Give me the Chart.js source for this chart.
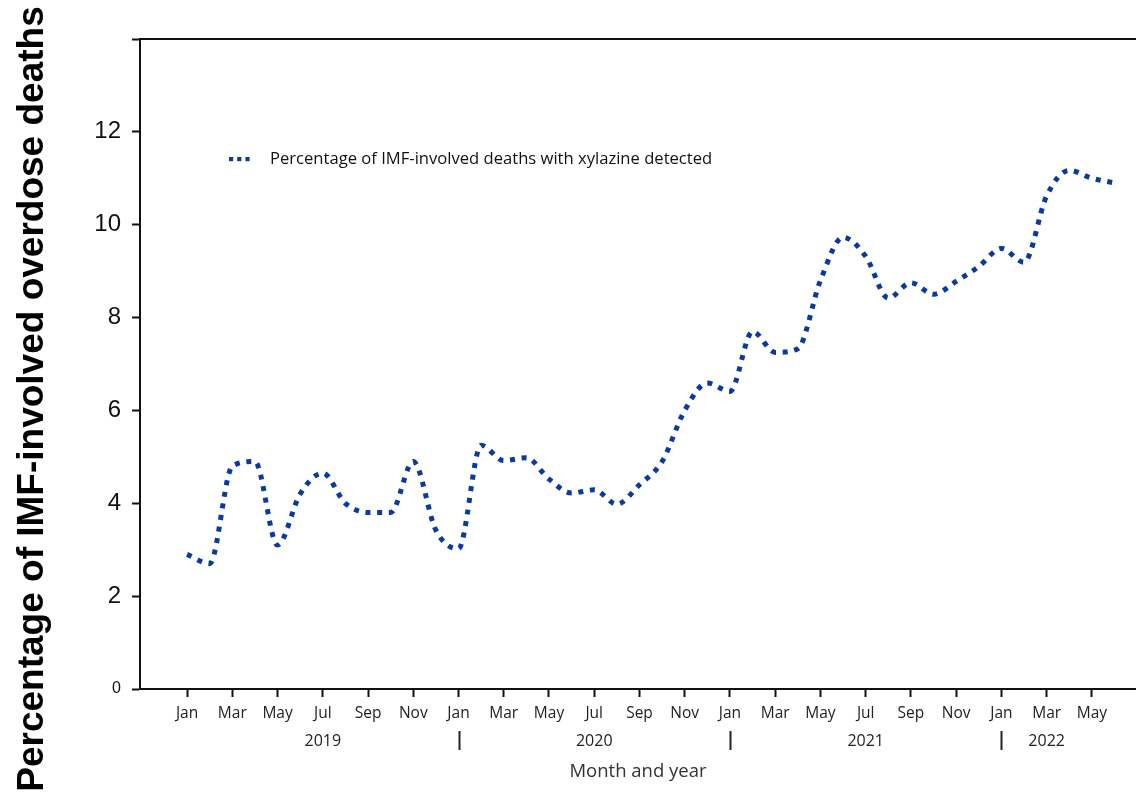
<!DOCTYPE html>
<html>
<head>
<meta charset="utf-8">
<script src="https://cdn.jsdelivr.net/npm/chart.js@4"></script>
<style>
  html, body { margin: 0; padding: 0; background: #fff; }
  #wrap { width: 1136px; height: 794px; position: relative; }
</style>
</head>
<body>
<div id="wrap"><canvas id="c" width="1136" height="794"></canvas></div>
<script>
// Monthly series, Jan 2019 – Jun 2022
const months = [
  '2019-01','2019-02','2019-03','2019-04','2019-05','2019-06','2019-07','2019-08','2019-09','2019-10','2019-11','2019-12',
  '2020-01','2020-02','2020-03','2020-04','2020-05','2020-06','2020-07','2020-08','2020-09','2020-10','2020-11','2020-12',
  '2021-01','2021-02','2021-03','2021-04','2021-05','2021-06','2021-07','2021-08','2021-09','2021-10','2021-11','2021-12',
  '2022-01','2022-02','2022-03','2022-04','2022-05','2022-06'
];
const xylazinePct = [
  2.9, 2.7, 4.8, 4.9, 3.1, 4.2, 4.65, 4.0, 3.8, 3.8, 4.9, 3.42,
  3.02, 5.25, 4.92, 4.98, 4.52, 4.22, 4.29, 3.98, 4.4, 4.9, 6.0, 6.59,
  6.41, 7.7, 7.25, 7.33, 8.8, 9.73, 9.32, 8.42, 8.75, 8.5, 8.78, 9.1,
  9.49, 9.19, 10.62, 11.17, 11.0, 10.9
];
// Labels for every second month
const tickLabels = ['Jan','Mar','May','Jul','Sep','Nov','Jan','Mar','May','Jul','Sep','Nov',
                    'Jan','Mar','May','Jul','Sep','Nov','Jan','Mar','May'];
const years = ['2019', '2020', '2021', '2022'];
const seriesLabel = 'Percentage of IMF-involved deaths with xylazine detected';
const yTitle = 'Percentage of IMF-involved overdose deaths';
const xTitle = 'Month and year';

// month index where each year label is centred, and where year breaks sit
const yearLabelAt = [6, 18, 30, 38];
const yearBreakAt = [12, 24, 36];

const lineColor = '#0a3a9e';
const axisColor = '#111';

const points = months.map((m, i) => ({ x: i, y: xylazinePct[i] }));

const decor = {
  id: 'decor',
  afterDraw(chart) {
    const ctx = chart.ctx;
    const xs = chart.scales.x, ys = chart.scales.y;
    const area = chart.chartArea;
    ctx.save();

    // top frame line
    ctx.strokeStyle = axisColor;
    ctx.lineWidth = 2;
    ctx.beginPath();
    ctx.moveTo(area.left, ys.getPixelForValue(14));
    ctx.lineTo(chart.width, ys.getPixelForValue(14));
    ctx.stroke();

    // year row
    ctx.fillStyle = '#222';
    ctx.font = '16px "Open Sans"';
    ctx.textAlign = 'center';
    ctx.textBaseline = 'middle';
    years.forEach((y, k) => ctx.fillText(y, xs.getPixelForValue(yearLabelAt[k]), 741));
    ctx.strokeStyle = '#222';
    ctx.lineWidth = 2;
    yearBreakAt.forEach(v => {
      const px = Math.round(xs.getPixelForValue(v)) + 0.5;
      ctx.beginPath();
      ctx.moveTo(px, 731);
      ctx.lineTo(px, 750);
      ctx.stroke();
    });

    // x-axis title
    ctx.font = '18.5px "Open Sans"';
    ctx.fillStyle = '#333';
    ctx.fillText(xTitle, (area.left + area.right) / 2, 772);

    // y-axis title
    ctx.save();
    ctx.translate(43, 399);
    ctx.rotate(-Math.PI / 2);
    ctx.font = 'bold 37px "Liberation Sans"';
    ctx.fillStyle = '#000';
    ctx.textAlign = 'center';
    ctx.textBaseline = 'alphabetic';
    ctx.fillText(yTitle, 0, 0);
    ctx.restore();

    // legend
    ctx.fillStyle = lineColor;
    for (let k = 0; k < 3; k++) ctx.fillRect(229 + k * 8.2, 157, 4.2, 4.2);
    ctx.fillStyle = '#111';
    ctx.font = '16.6px "Open Sans"';
    ctx.textAlign = 'left';
    ctx.textBaseline = 'middle';
    ctx.fillText(seriesLabel, 270, 159);

    ctx.restore();
  }
};

new Chart(document.getElementById('c'), {
  type: 'line',
  data: {
    datasets: [{
      label: seriesLabel,
      data: points,
      borderColor: lineColor,
      borderWidth: 5,
      borderDash: [5, 6.7],
      borderCapStyle: 'butt',
      pointRadius: 0,
      cubicInterpolationMode: 'monotone',
      fill: false
    }]
  },
  options: {
    responsive: false,
    devicePixelRatio: 1,
    animation: false,
    layout: { padding: { top: 39, right: 0, bottom: 0, left: 0 } },
    plugins: { legend: { display: false }, tooltip: { enabled: false } },
    scales: {
      x: {
        type: 'linear',
        min: -2.08,
        max: 41.95,
        afterFit(s) { s.height = 105; },
        afterBuildTicks(s) { s.ticks = tickLabels.map((_, k) => ({ value: 2 * k })); },
        ticks: {
          callback: v => tickLabels[Math.round(v / 2)],
          font: { family: 'Open Sans', size: 15.5 },
          color: '#222',
          padding: 7,
          maxRotation: 0,
          autoSkip: false
        },
        grid: { drawOnChartArea: false, tickLength: 8, tickWidth: 2, tickColor: axisColor },
        border: { color: axisColor, width: 2 }
      },
      y: {
        min: 0,
        max: 14,
        afterFit(s) { s.width = 140; },
        ticks: {
          stepSize: 2,
          callback: v => (v === 14 ? '' : String(v)),
          font: c => ({ family: 'Liberation Sans', size: (c.tick && c.tick.value === 0) ? 16 : 24 }),
          color: '#111',
          padding: 11
        },
        grid: { drawOnChartArea: false, tickLength: 8, tickWidth: 2, tickColor: axisColor },
        border: { color: axisColor, width: 2 }
      }
    }
  },
  plugins: [decor]
});
</script>
</body>
</html>
